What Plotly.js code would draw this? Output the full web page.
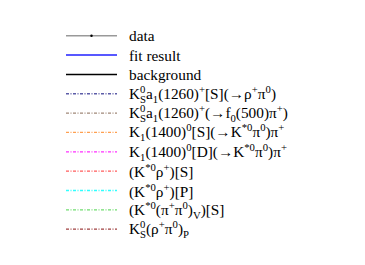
<!DOCTYPE html>
<html><head><meta charset="utf-8">
<script src="https://cdn.plot.ly/plotly-3.0.1.min.js"></script>
<style>html,body{margin:0;padding:0;background:#fff;}#c{width:365px;height:265px;}</style>
</head><body><div id="c"></div>
<script>
const labels = [
  "data",
  "fit result",
  "background",
  "K<sup>0</sup><sub>S</sub>a<sub>1</sub>(1260)<sup>+</sup>[S](→ρ<sup>+</sup>π<sup>0</sup>)",
  "K<sup>0</sup><sub>S</sub>a<sub>1</sub>(1260)<sup>+</sup>(→f<sub>0</sub>(500)π<sup>+</sup>)",
  "K<sub>1</sub>(1400)<sup>0</sup>[S](→K<sup>*0</sup>π<sup>0</sup>)π<sup>+</sup>",
  "K<sub>1</sub>(1400)<sup>0</sup>[D](→K<sup>*0</sup>π<sup>0</sup>)π<sup>+</sup>",
  "(K<sup>*0</sup>ρ<sup>+</sup>)[S]",
  "(K<sup>*0</sup>ρ<sup>+</sup>)[P]",
  "(K<sup>*0</sup>(π<sup>+</sup>π<sup>0</sup>)<sub>V</sub>)[S]",
  "K<sup>0</sup><sub>S</sub>(ρ<sup>+</sup>π<sup>0</sup>)<sub>P</sub>"
];
const colors = ["#999999","#2020ff","#000000","#5c5ca8","#a08878","#ffa050","#ff30ff","#ff5c5c","#30ffff","#70dd70","#a04040"];
const dashes = ["solid","solid","solid","dd","dd","dd","dd","dd","dd","dd","dd"];

const rowTop = 35.7, rowStep = 19.35, x0 = 66, x1 = 117, tx = 127;
const FONT = "Liberation Serif";
const traces = [];
const annotations = [];
labels.forEach((lab, i) => {
  const y = rowTop + i * rowStep;
  const solid = dashes[i] === "solid";
  traces.push({
    type: "scatter", mode: "lines", x: [x0, x1], y: [y, y],
    line: {color: colors[i], width: solid ? 1.5 : 1.3,
           dash: solid ? "solid" : "3px,1.5px,1px,1.5px"},
    hoverinfo: "skip", showlegend: false
  });
  if (i === 0) {
    traces.push({type: "scatter", mode: "markers", x: [(x0 + x1) / 2], y: [y],
      marker: {color: "#000", size: 2.5}, hoverinfo: "skip", showlegend: false});
  }
  annotations.push({x: tx, y: y, xref: "x", yref: "y", text: lab, showarrow: false,
    xanchor: "left", yanchor: "middle", align: "left",
    font: {family: FONT, size: 15.3, color: "#000"}});
});

Plotly.newPlot("c", traces, {
  width: 365, height: 265,
  font: {family: FONT},
  margin: {l: 0, r: 0, t: 0, b: 0},
  paper_bgcolor: "#fff", plot_bgcolor: "#fff",
  xaxis: {range: [0, 365], visible: false, fixedrange: true},
  yaxis: {range: [265, 0], visible: false, fixedrange: true},
  annotations: annotations,
  showlegend: false
}, {staticPlot: true}).then(gd => {
  gd.querySelectorAll(".annotation-text").forEach(t => {
    t.style.fontFamily = "'Liberation Serif', 'Times New Roman', serif";
    const spans = Array.from(t.querySelectorAll("tspan")).filter(s => s.textContent.trim() !== "" && s.textContent !== "\u200b");
    for (let k = 1; k < spans.length; k++) {
      if (spans[k].textContent === "S" && spans[k - 1].textContent === "0") {
        const w = spans[k - 1].getComputedTextLength();
        spans[k].setAttribute("dx", (-w).toFixed(2));
      }
    }
  });
});
</script></body></html>
